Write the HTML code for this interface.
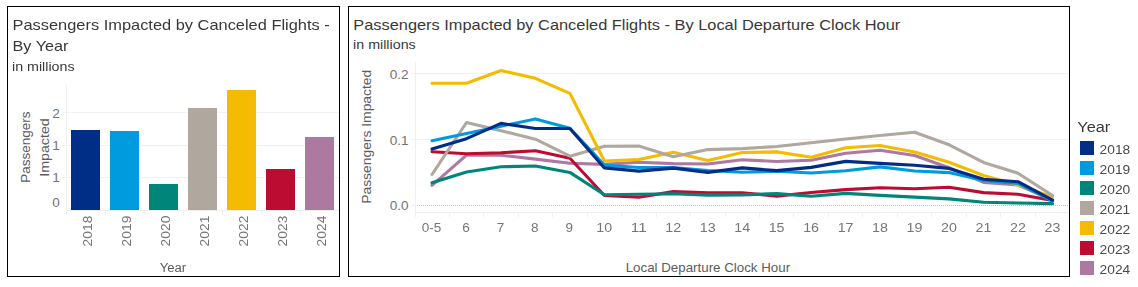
<!DOCTYPE html>
<html><head><meta charset="utf-8"><style>
html,body{margin:0;padding:0;background:#fff;width:1138px;height:287px;overflow:hidden}
svg{position:absolute;left:0;top:0;display:block}
text{font-family:"Liberation Sans",sans-serif}
</style></head><body>
<svg width="1138" height="287" viewBox="0 0 1138 287">

<rect x="7.5" y="6.5" width="332" height="270" fill="none" stroke="#000" stroke-width="1"/>
<rect x="348.5" y="6.5" width="721" height="270" fill="none" stroke="#000" stroke-width="1"/>
<text x="353.3" y="29.6" font-size="15" fill="#383838" textLength="546.98" lengthAdjust="spacingAndGlyphs">Passengers Impacted by Canceled Flights - By Local Departure Clock Hour</text>
<text x="353.1" y="48.7" font-size="13" fill="#383838" textLength="62.6" lengthAdjust="spacingAndGlyphs">in millions</text>
<line x1="62" y1="112.5" x2="338.5" y2="112.5" stroke="#f2f2f2" stroke-width="1"/>
<line x1="62" y1="145.5" x2="338.5" y2="145.5" stroke="#f2f2f2" stroke-width="1"/>
<line x1="62" y1="177.5" x2="338.5" y2="177.5" stroke="#f2f2f2" stroke-width="1"/>
<line x1="66.5" y1="84" x2="66.5" y2="215" stroke="#efefef" stroke-width="1"/>
<line x1="66" y1="210.5" x2="338.5" y2="210.5" stroke="#efefef" stroke-width="1"/>
<line x1="105.5" y1="210" x2="105.5" y2="215" stroke="#efefef" stroke-width="1"/>
<line x1="144.5" y1="210" x2="144.5" y2="215" stroke="#efefef" stroke-width="1"/>
<line x1="183.5" y1="210" x2="183.5" y2="215" stroke="#efefef" stroke-width="1"/>
<line x1="222.5" y1="210" x2="222.5" y2="215" stroke="#efefef" stroke-width="1"/>
<line x1="261.5" y1="210" x2="261.5" y2="215" stroke="#efefef" stroke-width="1"/>
<line x1="300.5" y1="210" x2="300.5" y2="215" stroke="#efefef" stroke-width="1"/>
<text x="59.8" y="117.8" font-size="12" fill="#737373" text-anchor="end" textLength="7.54" lengthAdjust="spacingAndGlyphs">2</text>
<text x="59.8" y="149.8" font-size="12" fill="#737373" text-anchor="end" textLength="7.54" lengthAdjust="spacingAndGlyphs">1</text>
<text x="59.8" y="182.3" font-size="12" fill="#737373" text-anchor="end" textLength="7.54" lengthAdjust="spacingAndGlyphs">1</text>
<text x="59.8" y="206.8" font-size="12" fill="#737373" text-anchor="end" textLength="7.54" lengthAdjust="spacingAndGlyphs">0</text>
<rect x="71" y="130" width="29" height="80" fill="#002d86"/>
<rect x="110" y="131" width="29" height="79" fill="#009bde"/>
<rect x="149" y="184" width="29" height="26" fill="#00857a"/>
<rect x="188" y="108" width="29" height="102" fill="#b0a79f"/>
<rect x="227" y="90" width="29" height="120" fill="#f5bb00"/>
<rect x="266" y="169" width="29" height="41" fill="#bc0c31"/>
<rect x="305" y="137" width="29" height="73" fill="#ad79a0"/>
<text transform="translate(30,182.8) rotate(-90)" font-size="13" fill="#5c5c5c" textLength="71.29" lengthAdjust="spacingAndGlyphs">Passengers</text>
<text transform="translate(49,176.7) rotate(-90)" font-size="13" fill="#5c5c5c" textLength="58.43" lengthAdjust="spacingAndGlyphs">Impacted</text>
<line x1="411" y1="73.5" x2="1068.5" y2="73.5" stroke="#f2f2f2" stroke-width="1"/>
<line x1="411" y1="139.5" x2="1068.5" y2="139.5" stroke="#f2f2f2" stroke-width="1"/>
<line x1="411" y1="205.4" x2="415" y2="205.4" stroke="#efefef" stroke-width="1"/>
<line x1="417" y1="205.5" x2="1068" y2="205.5" stroke="#c0c0c0" stroke-width="1" stroke-dasharray="1 1"/>
<line x1="415.5" y1="62" x2="415.5" y2="217" stroke="#efefef" stroke-width="1"/>
<line x1="415" y1="212.5" x2="1068.5" y2="212.5" stroke="#efefef" stroke-width="1"/>
<line x1="449.5" y1="212" x2="449.5" y2="217" stroke="#efefef" stroke-width="1"/>
<line x1="483.5" y1="212" x2="483.5" y2="217" stroke="#efefef" stroke-width="1"/>
<line x1="518.5" y1="212" x2="518.5" y2="217" stroke="#efefef" stroke-width="1"/>
<line x1="552.5" y1="212" x2="552.5" y2="217" stroke="#efefef" stroke-width="1"/>
<line x1="587.5" y1="212" x2="587.5" y2="217" stroke="#efefef" stroke-width="1"/>
<line x1="621.5" y1="212" x2="621.5" y2="217" stroke="#efefef" stroke-width="1"/>
<line x1="656.5" y1="212" x2="656.5" y2="217" stroke="#efefef" stroke-width="1"/>
<line x1="690.5" y1="212" x2="690.5" y2="217" stroke="#efefef" stroke-width="1"/>
<line x1="725.5" y1="212" x2="725.5" y2="217" stroke="#efefef" stroke-width="1"/>
<line x1="759.5" y1="212" x2="759.5" y2="217" stroke="#efefef" stroke-width="1"/>
<line x1="793.5" y1="212" x2="793.5" y2="217" stroke="#efefef" stroke-width="1"/>
<line x1="828.5" y1="212" x2="828.5" y2="217" stroke="#efefef" stroke-width="1"/>
<line x1="862.5" y1="212" x2="862.5" y2="217" stroke="#efefef" stroke-width="1"/>
<line x1="897.5" y1="212" x2="897.5" y2="217" stroke="#efefef" stroke-width="1"/>
<line x1="931.5" y1="212" x2="931.5" y2="217" stroke="#efefef" stroke-width="1"/>
<line x1="966.5" y1="212" x2="966.5" y2="217" stroke="#efefef" stroke-width="1"/>
<line x1="1000.5" y1="212" x2="1000.5" y2="217" stroke="#efefef" stroke-width="1"/>
<line x1="1035.5" y1="212" x2="1035.5" y2="217" stroke="#efefef" stroke-width="1"/>
<text x="408.6" y="79.1" font-size="12" fill="#737373" text-anchor="end" textLength="18.85" lengthAdjust="spacingAndGlyphs">0.2</text>
<text x="408.6" y="144.8" font-size="12" fill="#737373" text-anchor="end" textLength="18.85" lengthAdjust="spacingAndGlyphs">0.1</text>
<text x="408.6" y="209.8" font-size="12" fill="#737373" text-anchor="end" textLength="18.85" lengthAdjust="spacingAndGlyphs">0.0</text>
<text transform="translate(371.2,203.8) rotate(-90)" font-size="13" fill="#5c5c5c" textLength="134.05" lengthAdjust="spacingAndGlyphs">Passengers Impacted</text>
<text x="625.7" y="272" font-size="13" fill="#5c5c5c" textLength="164.42" lengthAdjust="spacingAndGlyphs">Local Departure Clock Hour</text>
<polyline points="432.0,185.3 466.5,155.2 501.0,155.2 535.4,159.1 569.9,163.2 604.4,164.4 638.9,162.2 673.3,163.6 707.8,164 742.3,159.7 776.7,161.5 811.2,160.2 845.7,153.3 880.1,150.2 914.6,155.5 949.1,167.8 983.6,182.4 1018.0,185 1052.5,199.8" fill="none" stroke="#ad79a0" stroke-width="3.1" stroke-linejoin="round" stroke-linecap="round"/>
<polyline points="432.0,151.7 466.5,153.7 501.0,152.8 535.4,150.7 569.9,158.2 604.4,195.5 638.9,197.3 673.3,191.6 707.8,192.7 742.3,192.7 776.7,196.1 811.2,192.5 845.7,189.6 880.1,187.8 914.6,188.7 949.1,187.3 983.6,192.6 1018.0,194.3 1052.5,200.5" fill="none" stroke="#bc0c31" stroke-width="3.1" stroke-linejoin="round" stroke-linecap="round"/>
<polyline points="432.0,174.5 466.5,122.5 501.0,130.7 535.4,139.2 569.9,156.2 604.4,146.3" fill="none" stroke="#b0a79f" stroke-width="3.1" stroke-linejoin="round" stroke-linecap="round"/>
<polyline points="432.0,83.2 466.5,83.2 501.0,70.5 535.4,78.3 569.9,93.4 604.4,161 638.9,159.5 673.3,152.3 707.8,160.5 742.3,152.5 776.7,151.9 811.2,157.3 845.7,147.8 880.1,145.5 914.6,152.1 949.1,162.3 983.6,175.5 1018.0,185 1052.5,197" fill="none" stroke="#f5bb00" stroke-width="3.1" stroke-linejoin="round" stroke-linecap="round"/>
<polyline points="604.4,146.3 638.9,146 673.3,156.8 707.8,149.6 742.3,148.6 776.7,146.5 811.2,142.7 845.7,139 880.1,135.5 914.6,132.3 949.1,144.8 983.6,162.4 1018.0,173.2 1052.5,195.5" fill="none" stroke="#b0a79f" stroke-width="3.1" stroke-linejoin="round" stroke-linecap="round"/>
<polyline points="432.0,182.8 466.5,172 501.0,166.8 535.4,166 569.9,172.4 604.4,194.8 638.9,194.2 673.3,193.8 707.8,195.1 742.3,194.9 776.7,193.6 811.2,196.2 845.7,193.4 880.1,195.4 914.6,197.1 949.1,198.9 983.6,202.3 1018.0,203 1052.5,203.6" fill="none" stroke="#00857a" stroke-width="3.1" stroke-linejoin="round" stroke-linecap="round"/>
<polyline points="432.0,140.8 466.5,133.5 501.0,126.2 535.4,118.9 569.9,128.2 604.4,165.1 638.9,167.5 673.3,167.5 707.8,170.5 742.3,172.3 776.7,171.3 811.2,173 845.7,170.7 880.1,166.9 914.6,171 949.1,172.6 983.6,180.5 1018.0,183.4 1052.5,201" fill="none" stroke="#009bde" stroke-width="3.1" stroke-linejoin="round" stroke-linecap="round"/>
<polyline points="432.0,149 466.5,138.7 501.0,123.4 535.4,128.5 569.9,128.5 604.4,167.9 638.9,171.1 673.3,168.1 707.8,172.4 742.3,167.9 776.7,170.6 811.2,167.4 845.7,161.4 880.1,163.4 914.6,165.2 949.1,168.4 983.6,179.2 1018.0,181.7 1052.5,200.1" fill="none" stroke="#002d86" stroke-width="3.1" stroke-linejoin="round" stroke-linecap="round"/>
<rect x="1080" y="141" width="14" height="14" fill="#002d86"/>
<rect x="1080" y="161" width="14" height="14" fill="#009bde"/>
<rect x="1080" y="181" width="14" height="14" fill="#00857a"/>
<rect x="1080" y="201" width="14" height="14" fill="#b0a79f"/>
<rect x="1080" y="221" width="14" height="14" fill="#f5bb00"/>
<rect x="1080" y="241" width="14" height="14" fill="#bc0c31"/>
<rect x="1080" y="261" width="14" height="14" fill="#ad79a0"/>
</svg>
<svg width="1138" height="287" viewBox="0 0 1138 287" style="will-change:transform">
<text x="12.5" y="29.7" font-size="15" fill="#383838" textLength="317.26" lengthAdjust="spacingAndGlyphs">Passengers Impacted by Canceled Flights -</text>
<text x="12.5" y="51.3" font-size="15" fill="#383838" textLength="55.99" lengthAdjust="spacingAndGlyphs">By Year</text>
<text x="12" y="70.7" font-size="13" fill="#383838" textLength="62.6" lengthAdjust="spacingAndGlyphs">in millions</text>
<text transform="translate(91.7,246.4) rotate(-90)" font-size="12" fill="#767676" textLength="30.8" lengthAdjust="spacingAndGlyphs">2018</text>
<text transform="translate(130.7,246.4) rotate(-90)" font-size="12" fill="#767676" textLength="30.8" lengthAdjust="spacingAndGlyphs">2019</text>
<text transform="translate(169.7,246.4) rotate(-90)" font-size="12" fill="#767676" textLength="30.8" lengthAdjust="spacingAndGlyphs">2020</text>
<text transform="translate(208.7,246.4) rotate(-90)" font-size="12" fill="#767676" textLength="30.8" lengthAdjust="spacingAndGlyphs">2021</text>
<text transform="translate(247.7,246.4) rotate(-90)" font-size="12" fill="#767676" textLength="30.8" lengthAdjust="spacingAndGlyphs">2022</text>
<text transform="translate(286.7,246.4) rotate(-90)" font-size="12" fill="#767676" textLength="30.8" lengthAdjust="spacingAndGlyphs">2023</text>
<text transform="translate(325.7,246.4) rotate(-90)" font-size="12" fill="#767676" textLength="30.8" lengthAdjust="spacingAndGlyphs">2024</text>
<text x="159.7" y="271.8" font-size="12" fill="#5c5c5c" textLength="26.49" lengthAdjust="spacingAndGlyphs">Year</text>
<text x="431.5" y="232" font-size="12" fill="#767676" text-anchor="middle" textLength="19.59" lengthAdjust="spacingAndGlyphs">0-5</text>
<text x="466.0" y="232" font-size="12" fill="#767676" text-anchor="middle" textLength="7.54" lengthAdjust="spacingAndGlyphs">6</text>
<text x="500.5" y="232" font-size="12" fill="#767676" text-anchor="middle" textLength="7.54" lengthAdjust="spacingAndGlyphs">7</text>
<text x="534.9" y="232" font-size="12" fill="#767676" text-anchor="middle" textLength="7.54" lengthAdjust="spacingAndGlyphs">8</text>
<text x="569.4" y="232" font-size="12" fill="#767676" text-anchor="middle" textLength="7.54" lengthAdjust="spacingAndGlyphs">9</text>
<text x="604.3" y="232" font-size="12" fill="#767676" text-anchor="middle" textLength="15.88" lengthAdjust="spacingAndGlyphs">10</text>
<text x="638.8" y="232" font-size="12" fill="#767676" text-anchor="middle" textLength="15.88" lengthAdjust="spacingAndGlyphs">11</text>
<text x="673.2" y="232" font-size="12" fill="#767676" text-anchor="middle" textLength="15.88" lengthAdjust="spacingAndGlyphs">12</text>
<text x="707.7" y="232" font-size="12" fill="#767676" text-anchor="middle" textLength="15.88" lengthAdjust="spacingAndGlyphs">13</text>
<text x="742.2" y="232" font-size="12" fill="#767676" text-anchor="middle" textLength="15.88" lengthAdjust="spacingAndGlyphs">14</text>
<text x="776.6" y="232" font-size="12" fill="#767676" text-anchor="middle" textLength="15.88" lengthAdjust="spacingAndGlyphs">15</text>
<text x="811.1" y="232" font-size="12" fill="#767676" text-anchor="middle" textLength="15.88" lengthAdjust="spacingAndGlyphs">16</text>
<text x="845.6" y="232" font-size="12" fill="#767676" text-anchor="middle" textLength="15.88" lengthAdjust="spacingAndGlyphs">17</text>
<text x="880.0" y="232" font-size="12" fill="#767676" text-anchor="middle" textLength="15.88" lengthAdjust="spacingAndGlyphs">18</text>
<text x="914.5" y="232" font-size="12" fill="#767676" text-anchor="middle" textLength="15.88" lengthAdjust="spacingAndGlyphs">19</text>
<text x="949.0" y="232" font-size="12" fill="#767676" text-anchor="middle" textLength="15.88" lengthAdjust="spacingAndGlyphs">20</text>
<text x="983.5" y="232" font-size="12" fill="#767676" text-anchor="middle" textLength="15.88" lengthAdjust="spacingAndGlyphs">21</text>
<text x="1017.9" y="232" font-size="12" fill="#767676" text-anchor="middle" textLength="15.88" lengthAdjust="spacingAndGlyphs">22</text>
<text x="1052.4" y="232" font-size="12" fill="#767676" text-anchor="middle" textLength="15.88" lengthAdjust="spacingAndGlyphs">23</text>
<text x="1077.3" y="131.8" font-size="14" fill="#383838" textLength="33.02" lengthAdjust="spacingAndGlyphs">Year</text>
<text x="1099.6" y="153.70000000000002" font-size="12" fill="#4a4a4a" textLength="30.68" lengthAdjust="spacingAndGlyphs">2018</text>
<text x="1099.6" y="173.70000000000002" font-size="12" fill="#4a4a4a" textLength="30.68" lengthAdjust="spacingAndGlyphs">2019</text>
<text x="1099.6" y="193.70000000000002" font-size="12" fill="#4a4a4a" textLength="30.68" lengthAdjust="spacingAndGlyphs">2020</text>
<text x="1099.6" y="213.70000000000002" font-size="12" fill="#4a4a4a" textLength="30.68" lengthAdjust="spacingAndGlyphs">2021</text>
<text x="1099.6" y="233.70000000000002" font-size="12" fill="#4a4a4a" textLength="30.68" lengthAdjust="spacingAndGlyphs">2022</text>
<text x="1099.6" y="253.70000000000002" font-size="12" fill="#4a4a4a" textLength="30.68" lengthAdjust="spacingAndGlyphs">2023</text>
<text x="1099.6" y="273.7" font-size="12" fill="#4a4a4a" textLength="30.68" lengthAdjust="spacingAndGlyphs">2024</text>
</svg></body></html>
